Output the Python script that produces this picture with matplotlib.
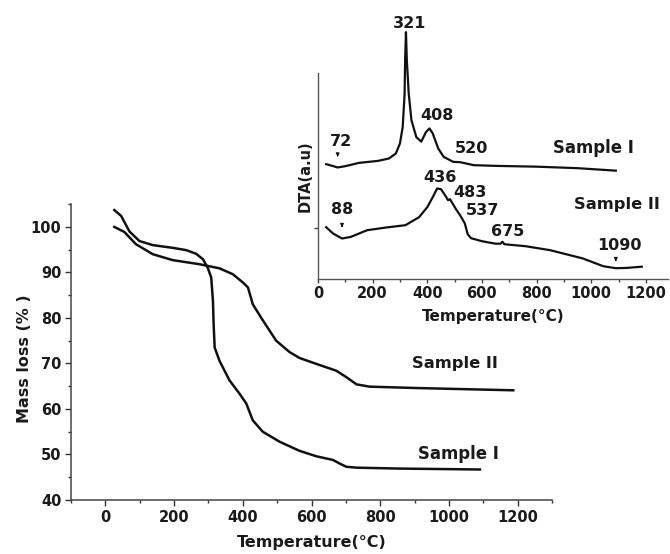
""" Courbes ATG (perte de masse) et ATD (encart) pour les deux échantillons """
import numpy as np
import matplotlib.pyplot as plt

plt.rcParams['font.family'] = ['DejaVu Sans']
plt.rcParams['font.weight'] = 'bold'

# ATG : perte de masse (%)
T_tg1 = [26, 46, 70, 99, 138, 196, 235, 264, 284, 298, 308, 313, 315, 318, 332, 361, 391, 410,
         429, 458, 507, 565, 614, 662, 682, 701, 731, 857, 1090]
m_tg1 = [103.7, 102.4, 99, 96.9, 96, 95.4, 94.9, 94.1, 92.9, 91, 88.9, 83.8, 78.7, 73.5, 70.6, 66.3,
         63.3, 61.2, 57.5, 55, 52.8, 50.8, 49.6, 48.8, 48, 47.3, 47.1, 46.9, 46.7]
T_tg2 = [26, 55, 89, 138, 196, 274, 332, 371, 400, 415, 429, 458, 497, 536, 565, 614, 672, 701,
         731, 769, 905, 1187]
m_tg2 = [100, 98.9, 96.2, 94, 92.7, 91.8, 90.9, 89.6, 87.8, 86.7, 83, 79.5, 75, 72.5, 71.2, 69.9,
         68.4, 67, 65.4, 64.9, 64.6, 64.1]

# ATD (unités arbitraires)
T_dta1 = [30, 50, 72, 100, 150, 220, 260, 285, 300, 310, 317, 319, 322, 325, 332, 342, 360, 378,
          395, 408, 420, 440, 460, 495, 520, 545, 570, 650, 800, 950, 1090]
y_dta1 = [115, 113.5, 111.7, 113, 116.3, 118.3, 120.7, 125.7, 135.7, 152, 185, 220, 247, 220, 186,
          159, 142, 137.5, 147, 150.7, 145.7, 130.7, 122.3, 117.3, 117, 115.5, 114, 113.3, 112.5,
          111, 108.5]
T_dta2 = [30, 55, 88, 120, 180, 250, 320, 370, 400, 420, 436, 450, 465, 476, 483, 492, 505, 520,
          537, 548, 560, 600, 650, 668, 675, 682, 700, 760, 850, 970, 1044, 1090, 1130, 1185]
y_dta2 = [52, 45.7, 40.7, 42.3, 49, 51.7, 54, 62, 72, 82, 90.7, 90, 84, 79, 80, 76, 70, 64, 56, 45,
          41, 38, 35.5, 35.5, 37.5, 35, 34.5, 33, 29, 20.7, 13, 11, 11.3, 12.5]

# étiquettes des pics : texte, position du texte
pics_txt = ['321', '408', '72', '520', '436', '483', '537', '675', '1090', '88']
pics_x = [334, 436, 83, 562, 446, 556, 603, 696, 1102, 89]
pics_y = [255.7, 164, 137.3, 130.7, 101.5, 86.3, 68.3, 47.3, 33.3, 69.7]
# petites flèches : (T, haut, bas)
fleches = [(72, 126.5, 119.5), (88, 55.7, 49), (1090, 22.3, 15)]

col = '#111111'
txtcol = '#1a1a1a'
fig = plt.figure(figsize=(6.7, 5.54), dpi=100)

# --- graphe principal ---
ax = fig.add_axes([0.106, 0.0975, 0.718, 0.534])
ax.plot(T_tg1, m_tg1, color=col, lw=1.8)
ax.plot(T_tg2, m_tg2, color=col, lw=1.8)
ax.set_xlim(-100, 1300)
ax.set_ylim(40, 105)
ax.set_xticks(np.arange(0, 1201, 200))
ax.set_xticks(np.arange(-100, 1301, 100), minor=True)
ax.set_yticks(np.arange(40, 101, 10))
ax.set_yticks(np.arange(40, 106, 5), minor=True)
ax.tick_params(which='major', direction='out', length=4, width=1, labelsize=10.5, colors='#333333',
               labelcolor=txtcol, pad=3)
ax.tick_params(which='minor', direction='out', length=2.5, width=1, colors='#333333')
for s in ['top', 'right']:
    ax.spines[s].set_visible(False)
for s in ['left', 'bottom']:
    ax.spines[s].set_linewidth(1.1)
    ax.spines[s].set_color('#444444')
ax.set_xlabel('Temperature(°C)', fontsize=11.5, fontweight='bold', color=txtcol)
ax.set_ylabel('Mass loss (% )', fontsize=11.5, fontweight='bold', color=txtcol)
ax.xaxis.set_label_coords(0.5, -0.117)
ax.yaxis.set_label_coords(-0.081, 0.478)
ax.text(1017, 69.9, 'Sample II', fontsize=11.7, fontweight='bold', ha='center', va='center', color=txtcol)
ax.text(1027, 50.2, 'Sample I', fontsize=11.9, fontweight='bold', ha='center', va='center', color=txtcol)

# --- encart ATD ---
ins = fig.add_axes([0.4746, 0.496, 0.522, 0.372])
ins.plot(T_dta1, y_dta1, color=col, lw=1.6, clip_on=False)
ins.plot(T_dta2, y_dta2, color=col, lw=1.6, clip_on=False)
ins.set_xlim(0, 1280)
ins.set_ylim(0, 206)
ins.set_xticks(np.arange(0, 1201, 200))
ins.set_xticks(np.arange(100, 1281, 100), minor=True)
ins.set_yticks([51])
ins.set_yticklabels([])
ins.tick_params(which='major', direction='out', length=3, width=1, labelsize=10.5, colors='#444444',
                labelcolor=txtcol, pad=2)
ins.tick_params(which='minor', direction='out', length=2, width=1, colors='#444444')
for s in ['top', 'right']:
    ins.spines[s].set_visible(False)
for s in ['left', 'bottom']:
    ins.spines[s].set_linewidth(1.0)
    ins.spines[s].set_color('#555555')
ins.set_xlabel('Temperature(°C)', fontsize=11, fontweight='bold', color=txtcol)
ins.set_ylabel('DTA(a.u)', fontsize=10.5, fontweight='bold', color=txtcol)
ins.xaxis.set_label_coords(0.5, -0.146)
ins.yaxis.set_label_coords(-0.014, 0.5)
ins.patch.set_alpha(0)

for txt, x, y in zip(pics_txt, pics_x, pics_y):
    ins.text(x, y, txt, fontsize=11.5, fontweight='bold', ha='center', va='center', color=txtcol,
             clip_on=False)
for t, y0, y1 in fleches:
    ins.annotate('', xy=(t, y1), xytext=(t, y0),
                 arrowprops=dict(arrowstyle='-|>', lw=0.8, color=col, mutation_scale=5))
ins.text(1007, 130.7, 'Sample I', fontsize=11.9, fontweight='bold', ha='center', va='center', color=txtcol)
ins.text(1093, 75, 'Sample II', fontsize=11.7, fontweight='bold', ha='center', va='center', color=txtcol)

plt.savefig('out.png', dpi=100)
